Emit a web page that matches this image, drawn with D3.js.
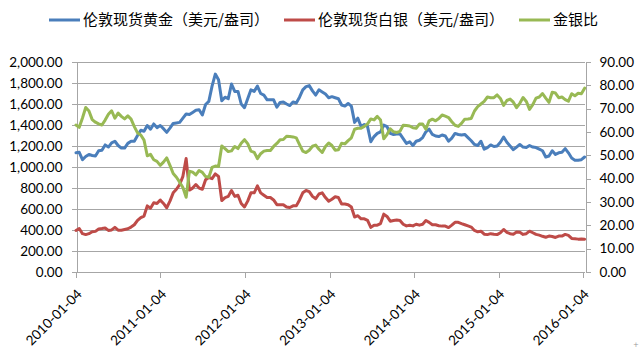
<!DOCTYPE html>
<html>
<head>
<meta charset="utf-8">
<script src="https://cdn.jsdelivr.net/npm/d3@7"></script>
<style>
  html, body { margin: 0; padding: 0; background: #fff; }
  svg { display: block; }
  .axis text { font-family: Lato, "Open Sans", sans-serif; font-size: 13.5px; fill: #000; }
  .axis path, .axis line { stroke: #a6a6a6; stroke-width: 1; shape-rendering: crispEdges; }
  .legend text { font-family: "Noto Sans CJK SC", sans-serif; font-size: 15px; fill: #000; }
</style>
</head>
<body>
<svg id="chart" width="640" height="349"></svg>
<script>
// Series labels
const seriesNames = ["伦敦现货黄金（美元/盎司）", "伦敦现货白银（美元/盎司）", "金银比"];
const seriesColors = ["#4a7ebb", "#be4b48", "#98b954"];

// Sampling: one point every two weeks starting 2010-01-04
const startDate = new Date(Date.UTC(2010, 0, 4));
const stepDays = 14;

// London spot gold (left axis)
const gold = [
  1135,1140,1070,1100,1120,1110,1105,1155,1160,1210,
  1190,1230,1245,1205,1180,1180,1225,1245,1245,1300,
  1350,1340,1395,1360,1410,1375,1395,1365,1330,1370,
  1415,1420,1425,1465,1505,1500,1520,1540,1545,1495,
  1595,1625,1770,1885,1830,1630,1665,1650,1790,1720,
  1720,1600,1565,1650,1735,1720,1770,1700,1685,1640,
  1640,1640,1570,1615,1620,1600,1585,1620,1610,1665,
  1735,1765,1775,1725,1685,1735,1715,1695,1660,1670,
  1660,1650,1590,1580,1605,1580,1425,1465,1385,1405,
  1385,1240,1290,1320,1335,1400,1385,1320,1310,1315,
  1315,1270,1225,1240,1205,1245,1255,1280,1335,1360,
  1310,1295,1290,1305,1295,1245,1275,1320,1310,1305,
  1310,1280,1250,1215,1205,1245,1170,1185,1210,1195,
  1200,1235,1285,1235,1200,1165,1190,1215,1190,1185,
  1205,1190,1185,1170,1155,1095,1105,1155,1120,1135,
  1140,1175,1135,1085,1065,1065,1070,1095
];

// London spot silver (left axis)
const silver = [
  395,414,365,356,365,383,387,410,414,419,
  396,401,425,398,398,405,412,428,450,491,
  518,533,630,608,659,653,686,653,612,675,
  754,788,833,911,1080,780,799,833,799,788,
  878,900,889,934,911,680,709,720,776,720,
  731,653,620,675,754,754,820,754,731,709,
  709,686,641,641,641,619,614,630,630,686,
  754,776,765,720,698,743,754,709,675,693,
  716,709,648,648,641,619,524,536,506,506,
  491,425,446,446,461,551,529,484,491,495,
  491,455,439,446,439,455,446,455,491,473,
  450,450,441,437,437,423,446,473,473,461,
  450,439,428,396,383,389,360,356,365,360,
  356,374,405,378,365,360,380,378,358,365,
  389,374,358,351,340,331,342,338,329,342,
  342,358,349,320,317,313,315,313
];

// Gold / silver ratio (right axis)
const ratio = [
  63,62,66,70.5,69,65.3,64.2,63.5,63,65.1,
  67.6,69.1,65.9,68.1,66.7,65.6,66.9,65.5,62.3,59.6,
  58.7,56.5,49.8,50.4,48.1,47.4,45.7,47.1,48.9,45.7,
  42.2,40.6,38.5,36.2,32,43.2,42.8,41.6,43.5,42.7,
  40.9,40.6,44.8,45.4,45.2,54,52.9,51.6,51.9,53.8,
  52.9,55.2,56.7,55,51.8,51.3,48.6,50.7,51.8,52.1,
  52.1,53.8,55.1,56.7,56.8,58.2,58.1,57.9,57.5,54.6,
  51.8,51.2,52.2,53.9,54.4,52.6,51.2,53.8,55.3,54.2,
  52.2,52.4,55.2,54.9,56.3,57.5,61.2,61.6,61.6,62.4,
  63.5,65.6,65.2,66.7,65.1,57.1,58.9,61.4,60.1,59.8,
  60.3,62.9,62.8,62.6,61.8,61.6,63.4,63.4,61.2,64.8,
  65.5,64.8,65.8,67.3,66.8,66.2,64.4,62.9,62.4,63.7,
  65.5,65.6,65.8,69,70.9,72,73.1,75,74.7,74.7,
  75.9,74.4,71.4,73.5,74.1,72.8,70.4,72.3,74.8,73.1,
  69.7,71.7,74.5,75,76.5,74.5,72.7,77,76.7,74.7,
  75,73.9,73.2,76.4,75.5,76.6,76.4,78.8
];

// Axis ticks
const xTickLabels = ["2010-01-04","2011-01-04","2012-01-04","2013-01-04","2014-01-04","2015-01-04","2016-01-04"];
const leftTicks = [0,200,400,600,800,1000,1200,1400,1600,1800,2000];
const rightTicks = [0,10,20,30,40,50,60,70,80,90];

const dates = gold.map((_, i) => d3.utcDay.offset(startDate, stepDays * i));
const parse = d3.utcParse("%Y-%m-%d");
const xTicks = xTickLabels.map(parse);

const svg = d3.select("#chart");
const plot = { left: 76, right: 585, top: 62, bottom: 272 };

const x = d3.scaleUtc()
  .domain([xTicks[0], xTicks[xTicks.length - 1]])
  .range([plot.left, 583]);
const yL = d3.scaleLinear().domain([0, 2000]).range([plot.bottom, plot.top]);
const yR = d3.scaleLinear().domain([0, 90]).range([plot.bottom, plot.top]);

// Horizontal gridlines
svg.append("g")
  .selectAll("line")
  .data(leftTicks.slice(1))
  .join("line")
  .attr("x1", plot.left).attr("x2", plot.right)
  .attr("y1", d => Math.round(yL(d)) + 0.5).attr("y2", d => Math.round(yL(d)) + 0.5)
  .attr("stroke", "#a6a6a6").attr("stroke-width", 1);

// Left axis
svg.append("g").attr("class", "axis")
  .attr("transform", `translate(${plot.left + 0.5},0)`)
  .call(d3.axisLeft(yL).tickValues(leftTicks).tickFormat(d3.format(",.2f")).tickSize(5).tickSizeOuter(0).tickPadding(9));

// Right axis
svg.append("g").attr("class", "axis")
  .attr("transform", `translate(${plot.right + 0.5},0)`)
  .call(d3.axisRight(yR).tickValues(rightTicks).tickFormat(d3.format(".2f")).tickSize(5).tickSizeOuter(0).tickPadding(9));

// Bottom axis with slanted date labels
const gX = svg.append("g").attr("class", "axis")
  .attr("transform", `translate(0,${plot.bottom + 0.5})`)
  .call(d3.axisBottom(x).tickValues(xTicks).tickFormat(d3.utcFormat("%Y-%m-%d")).tickSize(5).tickSizeOuter(0));
gX.select(".domain").attr("d", `M${plot.left},0H${plot.right}`);
gX.selectAll(".tick text")
  .attr("x", null).attr("y", null).attr("dy", "0.35em")
  .attr("text-anchor", "end")
  .attr("transform", "translate(3,19) rotate(-45)");

// Lines
const lineL = d3.line().x((d, i) => x(dates[i])).y(d => yL(d));
const lineR = d3.line().x((d, i) => x(dates[i])).y(d => yR(d));

[[gold, lineL, 0], [silver, lineL, 1], [ratio, lineR, 2]].forEach(([vals, gen, k]) => {
  svg.append("path")
    .datum(vals)
    .attr("d", gen)
    .attr("fill", "none")
    .attr("stroke", seriesColors[k])
    .attr("stroke-width", 3)
    .attr("stroke-linejoin", "round")
    .attr("stroke-linecap", "round");
});

// Legend
const legendItems = [
  { x: 49, name: seriesNames[0], color: seriesColors[0] },
  { x: 284, name: seriesNames[1], color: seriesColors[1] },
  { x: 519, name: seriesNames[2], color: seriesColors[2] }
];
const lg = svg.append("g").attr("class", "legend");
const items = lg.selectAll("g").data(legendItems).join("g")
  .attr("transform", d => `translate(${d.x},20)`);
items.append("line").attr("x1", 0).attr("x2", 31).attr("y1", 0).attr("y2", 0)
  .attr("stroke", d => d.color).attr("stroke-width", 3);
items.append("text").attr("x", 34).attr("y", 0).attr("dy", "0.35em").text(d => d.name);

// Small anchor mark in the corner
svg.append("text").attr("x", 633).attr("y", 347)
  .attr("font-family", "DejaVu Sans").attr("font-size", 7).attr("fill", "#999").text("+");
</script>
</body>
</html>
